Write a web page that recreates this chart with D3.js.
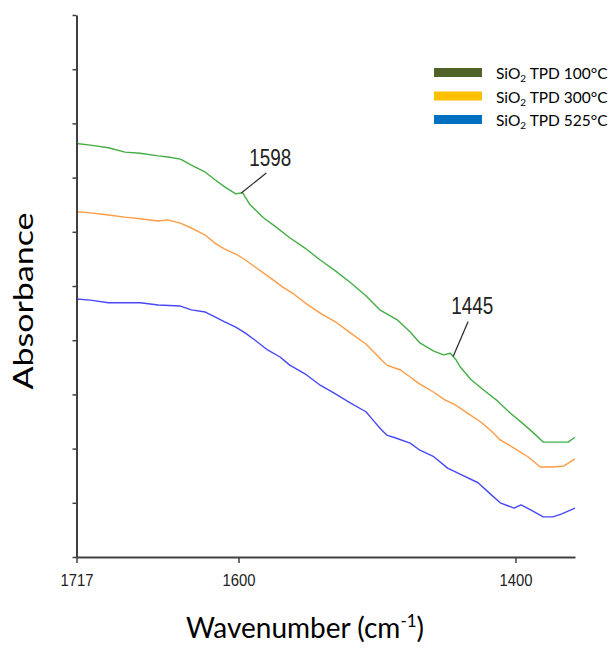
<!DOCTYPE html>
<html>
<head>
<meta charset="utf-8">
<script src="https://cdn.jsdelivr.net/npm/d3@7"></script>
<style>
    body { margin: 0; background: #fff; }
    svg { display: block; }
</style>
</head>
<body>
<svg id="chart"></svg>
<script>
    'use strict';

    // wavenumbers (cm-1) and absorbance (arbitrary units, offset per spectrum)
    var wn100 = [1717, 1707, 1694, 1682, 1671, 1658, 1651, 1642, 1634, 1624, 1617, 1610, 1602, 1597, 1592, 1582, 1574, 1563, 1552, 1541, 1530, 1519, 1508, 1498, 1485, 1476, 1469, 1459, 1452, 1447, 1443, 1440, 1432, 1423, 1413, 1404, 1395, 1387, 1380, 1371, 1362, 1357];
    var abs100 = [7.63, 7.60, 7.55, 7.47, 7.45, 7.40, 7.38, 7.34, 7.23, 7.10, 6.96, 6.83, 6.70, 6.72, 6.51, 6.26, 6.11, 5.89, 5.70, 5.48, 5.28, 5.06, 4.82, 4.56, 4.37, 4.15, 3.95, 3.80, 3.73, 3.76, 3.64, 3.51, 3.27, 3.08, 2.88, 2.66, 2.47, 2.29, 2.12, 2.12, 2.12, 2.21];

    var wn300 = [1717, 1707, 1694, 1682, 1671, 1658, 1651, 1642, 1634, 1624, 1617, 1610, 1602, 1595, 1588, 1577, 1568, 1561, 1552, 1541, 1530, 1519, 1508, 1498, 1493, 1483, 1476, 1469, 1459, 1451, 1443, 1435, 1425, 1418, 1411, 1401, 1391, 1382, 1373, 1365, 1357];
    var abs300 = [6.37, 6.35, 6.31, 6.27, 6.24, 6.20, 6.22, 6.16, 6.07, 5.94, 5.79, 5.68, 5.59, 5.48, 5.35, 5.15, 4.98, 4.87, 4.69, 4.50, 4.34, 4.13, 3.93, 3.67, 3.54, 3.45, 3.32, 3.19, 3.04, 2.90, 2.80, 2.66, 2.49, 2.34, 2.16, 2.01, 1.85, 1.66, 1.66, 1.68, 1.81];

    var wn525 = [1717, 1707, 1694, 1682, 1671, 1658, 1642, 1634, 1624, 1617, 1610, 1602, 1595, 1588, 1579, 1570, 1563, 1552, 1541, 1530, 1519, 1508, 1503, 1498, 1493, 1487, 1476, 1469, 1459, 1449, 1440, 1427, 1418, 1411, 1401, 1396, 1389, 1380, 1373, 1367, 1357];
    var abs525 = [4.76, 4.74, 4.69, 4.69, 4.69, 4.65, 4.63, 4.56, 4.52, 4.43, 4.34, 4.24, 4.13, 4.00, 3.82, 3.69, 3.54, 3.38, 3.17, 3.01, 2.84, 2.68, 2.53, 2.38, 2.25, 2.20, 2.10, 1.97, 1.85, 1.64, 1.53, 1.37, 1.16, 1.00, 0.90, 0.96, 0.87, 0.74, 0.74, 0.79, 0.90];

    var xTicks = [1717, 1600, 1400];
    var legendTemps = ['100°C', '300°C', '525°C'];
    var legendColors = ['#4f6228', '#ffc000', '#0070c0'];
    var lineColors = ['#45ad45', '#ff9b45', '#4848f5'];
    var peakLabels = [1598, 1445];

    var width = 611;
    var height = 648;

    var x = d3.scaleLinear()
        .domain([1717, 1357])
        .range([76.5, 575]);

    var y = d3.scaleLinear()
        .domain([0, 10])
        .range([557, 15]);

    var svg = d3.select('#chart')
        .attr('width', width)
        .attr('height', height);

    var series = [
        { wn: wn100, abs: abs100 },
        { wn: wn300, abs: abs300 },
        { wn: wn525, abs: abs525 }
    ];

    var line = d3.line()
        .x(function(d) { return x(d[0]); })
        .y(function(d) { return y(d[1]); })
        .curve(d3.curveLinear);

    svg.selectAll('path.spectrum')
        .data(series)
        .enter()
        .append('path')
        .attr('class', 'spectrum')
        .attr('d', function(s) { return line(d3.zip(s.wn, s.abs)); })
        .attr('fill', 'none')
        .attr('stroke', function(s, i) { return lineColors[i]; })
        .attr('stroke-width', 1.4)
        .attr('stroke-linejoin', 'round');

    // axes
    var xAxis = svg.append('g')
        .attr('transform', 'translate(0,' + y(0) + ')')
        .call(d3.axisBottom(x).tickValues(xTicks).tickSize(6).tickSizeOuter(0).tickFormat(d3.format('d')));

    var yAxis = svg.append('g')
        .attr('transform', 'translate(' + x(1717) + ',0)')
        .call(d3.axisLeft(y).ticks(10).tickSize(4).tickSizeOuter(0).tickFormat(''));

    [xAxis, yAxis].forEach(function(a) {
        a.select('.domain').attr('stroke', '#404040').attr('stroke-width', 2);
        a.selectAll('.tick line').attr('stroke', '#404040').attr('stroke-width', 1.5);
    });

    xAxis.selectAll('.tick text')
        .attr('y', 18)
        .attr('dy', '0.71em')
        .attr('font-family', 'Liberation Sans, Arial, sans-serif')
        .attr('font-size', 16)
        .attr('textLength', 33)
        .attr('lengthAdjust', 'spacingAndGlyphs')
        .attr('fill', '#222');

    // axis titles
    var xTitle = svg.append('text')
        .attr('x', 305)
        .attr('y', 638)
        .attr('text-anchor', 'middle')
        .attr('font-family', 'Lato, sans-serif')
        .attr('font-size', 28)
        .attr('fill', '#000');
    xTitle.append('tspan').text('Wavenumber (cm');
    xTitle.append('tspan').attr('font-size', 17).attr('dy', -11).text('-1');
    xTitle.append('tspan').attr('dy', 11).text(')');

    svg.append('text')
        .attr('transform', 'translate(33,301) rotate(-90)')
        .attr('text-anchor', 'middle')
        .attr('font-family', 'Lato, sans-serif')
        .attr('font-size', 26)
        .attr('textLength', 177)
        .attr('lengthAdjust', 'spacingAndGlyphs')
        .attr('fill', '#000')
        .text('Absorbance');

    // peak annotations on the 100°C spectrum
    var peakOffsets = [[25, -20], [15, -35]];
    peakLabels.forEach(function(p, i) {
        var px = x(p);
        var py = y(d3.scaleLinear().domain(wn100).range(abs100)(p));
        var ex = px + peakOffsets[i][0];
        var ey = py + peakOffsets[i][1];
        svg.append('line')
            .attr('x1', px).attr('y1', py)
            .attr('x2', ex).attr('y2', ey)
            .attr('stroke', '#333')
            .attr('stroke-width', 1.3);
        svg.append('text')
            .attr('x', ex + 4)
            .attr('y', ey - 7)
            .attr('text-anchor', 'middle')
            .attr('font-family', 'Liberation Sans, Arial, sans-serif')
            .attr('font-size', 24)
            .attr('textLength', 42)
            .attr('lengthAdjust', 'spacingAndGlyphs')
            .attr('fill', '#222')
            .text(p);
    });

    // legend
    var legend = svg.append('g')
        .attr('transform', 'translate(434,68)');

    var rows = legend.selectAll('g')
        .data(legendTemps)
        .enter()
        .append('g')
        .attr('transform', function(d, i) { return 'translate(0,' + (i * 23.5) + ')'; });

    rows.append('rect')
        .attr('width', 48)
        .attr('height', 9)
        .attr('fill', function(d, i) { return legendColors[i]; });

    var label = rows.append('text')
        .attr('x', 62)
        .attr('y', 11)
        .attr('font-family', 'Lato, sans-serif')
        .attr('font-size', 15.5)
        .attr('fill', '#000');
    label.append('tspan').text('SiO');
    label.append('tspan').attr('font-size', 10).attr('dy', 3).text('2');
    label.append('tspan').attr('dy', -3).text(function(d) { return ' TPD ' + d; });
</script>
</body>
</html>
